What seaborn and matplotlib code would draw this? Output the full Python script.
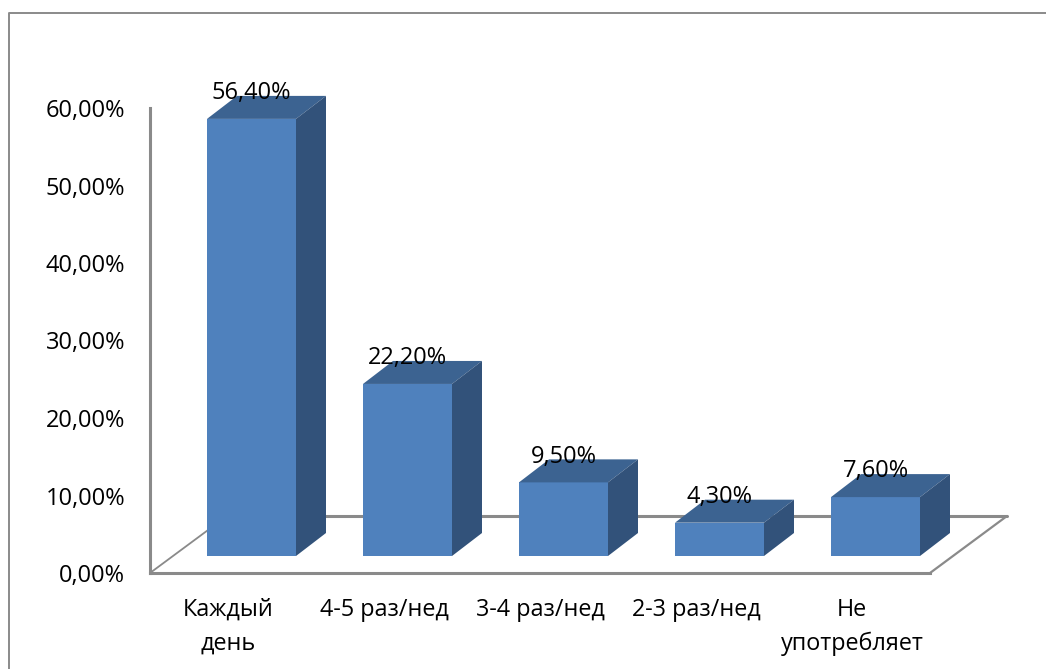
"""3D-looking bar chart: how often the product is consumed."""

import matplotlib
matplotlib.use("Agg")
import matplotlib.pyplot as plt
import pandas as pd
import seaborn as sns
from matplotlib.lines import Line2D
from matplotlib.patches import Polygon

categories = ["Каждый\nдень", "4-5 раз/нед", "3-4 раз/нед", "2-3 раз/нед", "Не\nупотребляет"]
values = [56.4, 22.2, 9.5, 4.3, 7.6]
y_ticks = [0, 10, 20, 30, 40, 50, 60]

W, H = 1046, 669
FRONT = "#4F81BD"
TOP = "#3C6391"
SIDE = "#32527A"
GRID = "#8A8A8A"

# pixel scales of the plot area
PX_CAT = 156
PX_PCT = 465 / 60


def pct(value):
    return f"{value:.2f}".replace(".", ",") + "%"


sns.set_theme(style="white")
plt.rcParams["font.family"] = ["Open Sans", "DejaVu Sans"]

fig = plt.figure(figsize=(W / 100, H / 100), dpi=100)

# wall axes: y axis, category labels and floor
wall = fig.add_axes([150 / W, (H - 573) / H, 780 / W, 465 / H])
wall.set_xlim(-0.5, 4.5)
wall.set_ylim(0, 60)
wall.set_yticks(y_ticks)
wall.set_yticklabels([pct(t) for t in y_ticks])
wall.set_xticks(range(len(categories)))
wall.set_xticklabels(categories, linespacing=1.55)
wall.tick_params(axis="y", length=0, pad=18, labelsize=17, labelcolor="black")
wall.tick_params(axis="x", length=0, pad=18, labelsize=16.8, labelcolor="black")
wall.patch.set_alpha(0)
sns.despine(ax=wall, top=True, right=True)
for side in ["left", "bottom"]:
    wall.spines[side].set_color(GRID)
    wall.spines[side].set_linewidth(2.2)

floor_dx = 77 / PX_CAT
floor_dy = 57 / PX_PCT
wall.plot([-0.5, -0.5 + floor_dx], [0, floor_dy], color=GRID, lw=1.3, clip_on=False)
wall.plot([-0.5 + floor_dx, 4.5 + floor_dx], [floor_dy, floor_dy], color=GRID, lw=2.2, clip_on=False)
wall.plot([4.5, 4.5 + floor_dx], [0, floor_dy], color=GRID, lw=1.6, clip_on=False)

# bar axes: same scale, moved onto the middle of the floor
bars = fig.add_axes([173.5 / W, (H - 556) / H, 780 / W, 465 / H])
df = pd.DataFrame({"category": categories, "value": values})
sns.barplot(data=df, x="category", y="value", color=FRONT, saturation=1, width=89 / PX_CAT, ax=bars)
bars.set_xlim(-0.5, 4.5)
bars.set_ylim(0, 60)
bars.axis("off")

dx = 30 / PX_CAT
dy = 23 / PX_PCT
for patch in list(bars.patches):
    x0 = patch.get_x()
    x1 = x0 + patch.get_width()
    h = patch.get_height()
    patch.set_edgecolor("none")
    patch.set_clip_on(False)
    bars.add_patch(Polygon([(x0, h), (x1, h), (x1 + dx, h + dy), (x0 + dx, h + dy)],
                           facecolor=TOP, edgecolor="none", clip_on=False))
    bars.add_patch(Polygon([(x1, 0), (x1 + dx, dy), (x1 + dx, h + dy), (x1, h)],
                           facecolor=SIDE, edgecolor="none", clip_on=False))

labels = bars.bar_label(bars.containers[0], labels=[pct(v) for v in values],
                        padding=18.6, fontsize=17, color="black", zorder=5)
for label in labels:
    label.set_va("center")
    label.set_clip_on(False)

# frame of the pasted chart, only top and left are visible
fig.add_artist(Line2D([9 / W, 9 / W, 1], [0, (H - 13) / H, (H - 13) / H],
                      transform=fig.transFigure, color=GRID, lw=1.4))

fig.savefig("out.png", dpi=100)
